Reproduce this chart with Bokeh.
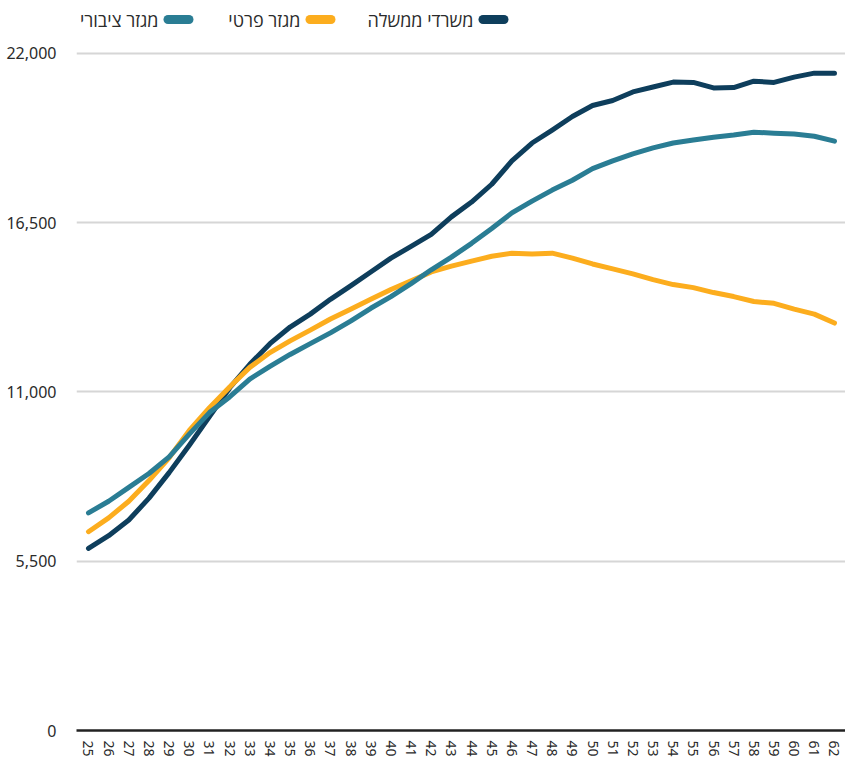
from bokeh.plotting import figure
from bokeh.models import Range1d, FixedTicker, NumeralTickFormatter
from bokeh.layouts import column
from bokeh.embed import file_html
from bokeh.resources import INLINE
from bokeh.core.properties import value

# ---------------- data ----------------
ages = list(range(25, 63))

government = [5920, 6330, 6840, 7550, 8380, 9270, 10200, 11130, 11900, 12570,
              13110, 13530, 14010, 14450, 14900, 15350, 15730, 16120, 16690, 17170,
              17750, 18510, 19090, 19510, 19950, 20310, 20470, 20750, 20910, 21070,
              21060, 20880, 20890, 21100, 21060, 21230, 21360, 21360]

private = [6460, 6910, 7450, 8120, 8860, 9750, 10490, 11160, 11800, 12280,
           12660, 13010, 13370, 13690, 14010, 14330, 14610, 14900, 15090, 15250,
           15410, 15510, 15480, 15510, 15350, 15160, 15000, 14840, 14650, 14490,
           14390, 14230, 14100, 13940, 13880, 13690, 13530, 13240]

public = [7070, 7450, 7900, 8350, 8890, 9630, 10330, 10840, 11420, 11830,
          12220, 12570, 12920, 13300, 13720, 14100, 14520, 14970, 15380, 15830,
          16310, 16820, 17200, 17560, 17880, 18260, 18510, 18740, 18930, 19090,
          19190, 19280, 19350, 19440, 19410, 19380, 19310, 19150]

y_ticks = [0, 5500, 11000, 16500, 22000]

series_names = ["משרדי ממשלה", "מגזר פרטי", "מגזר ציבורי"]
series_values = [government, private, public]
series_colors = ["#0e3e5c", "#fcad1e", "#2a7d94"]

FONT = "Noto Sans"
HEB_FONT = "Open Sans"

W = 845
LEFT = 76
LEG_H = 34

# ---------------- legend strip ----------------
leg = figure(width=W, height=LEG_H, x_range=Range1d(LEFT, W), y_range=Range1d(LEG_H, 0),
             toolbar_location=None, output_backend="svg",
             x_axis_location=None, y_axis_location=None,
             min_border=0, min_border_left=LEFT, min_border_right=0,
             min_border_top=0, min_border_bottom=0)
leg.grid.visible = False
leg.outline_line_color = None

# legend items laid out right-to-left: swatch on the right of its label
swatch_left = [482.5, 309.5, 167.5]
swatch_len = 21
text_gap = 9.5
for name, col, sx in zip(series_names, series_colors, swatch_left):
    leg.segment(x0=[sx], y0=[19], x1=[sx + swatch_len], y1=[19],
                line_color=col, line_width=9, line_cap="round")
    leg.text(x=[sx - text_gap], y=[19], text=[name], text_align="right",
             text_baseline="middle", text_font=value(HEB_FONT),
             text_font_size="18px", text_color="#2b2b2b")

# ---------------- main chart ----------------
p = figure(width=W, height=759 - LEG_H,
           x_range=Range1d(24.405, 62.546), y_range=Range1d(0, 22616),
           toolbar_location=None, output_backend="svg",
           min_border_left=LEFT, min_border_right=0,
           min_border_top=0, min_border_bottom=28)
p.outline_line_color = None
p.background_fill_color = "white"

for vals, col in zip(series_values, series_colors):
    p.line(ages, vals, line_color=col, line_width=5,
           line_cap="round", line_join="round")

# y axis
p.yaxis.ticker = FixedTicker(ticks=y_ticks)
p.yaxis.formatter = NumeralTickFormatter(format="0,0")
p.yaxis.axis_line_color = None
p.yaxis.major_tick_line_color = None
p.yaxis.minor_tick_line_color = None
p.yaxis.major_label_standoff = 14
p.yaxis.major_label_text_font = FONT
p.yaxis.major_label_text_font_size = "16px"
p.yaxis.major_label_text_color = "#2b2b2b"

# x axis
p.xaxis.ticker = FixedTicker(ticks=ages)
p.xaxis.axis_line_color = "#222222"
p.xaxis.axis_line_width = 2.5
p.xaxis.major_tick_line_color = None
p.xaxis.minor_tick_line_color = None
p.xaxis.major_label_orientation = "vertical"
p.xaxis.major_label_standoff = 4
p.xaxis.major_label_text_font = FONT
p.xaxis.major_label_text_font_size = "14px"
p.xaxis.major_label_text_color = "#2b2b2b"

# grid
p.xgrid.visible = False
p.ygrid.ticker = FixedTicker(ticks=y_ticks[1:])
p.ygrid.grid_line_color = "#d6d6d6"
p.ygrid.grid_line_width = 2

layout = column(leg, p, spacing=0)

open("out.html", "w").write(file_html(layout, INLINE))
